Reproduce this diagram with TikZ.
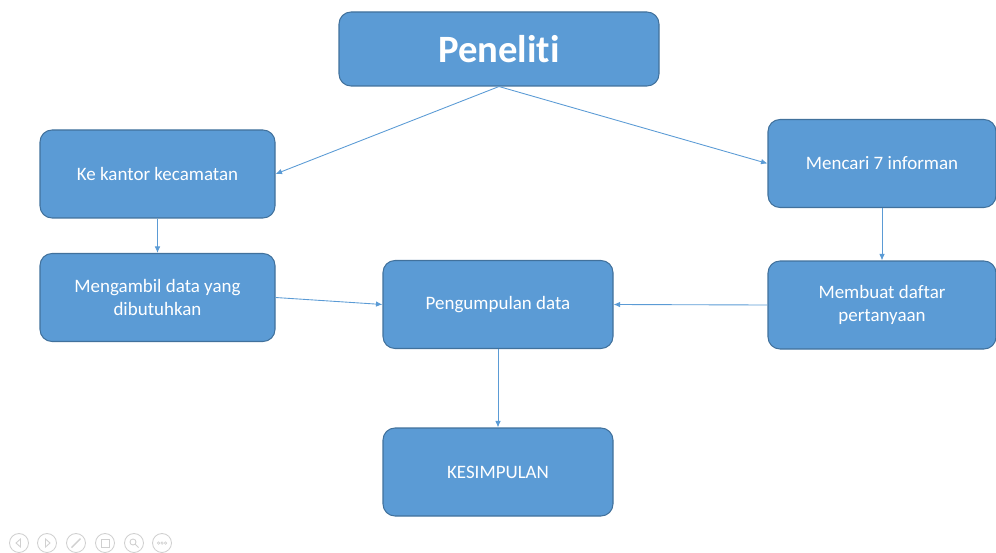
\documentclass[tikz,border=0pt]{standalone}
\usepackage{fontspec}
\setmainfont[Ligatures=NoCommon]{Carlito}
\usetikzlibrary{arrows.meta}
\definecolor{boxblue}{HTML}{5B9BD5}
\definecolor{boxedge}{HTML}{41719C}
\definecolor{ctlgray}{HTML}{D0D0D0}

\begin{document}
\begin{tikzpicture}[
  blok/.style={rectangle,rounded corners=2.4mm,draw=boxedge,fill=boxblue,
    line width=0.6pt,text=white,align=center,font=\fontsize{10.8}{13.2}\selectfont,
    minimum width=4.7cm,minimum height=1.76cm,inner sep=0pt},
  arr/.style={-{Latex[length=1.3mm,width=1.1mm]},boxblue,line width=0.5pt},
  ctl/.style={circle,draw=ctlgray,line width=0.5pt,minimum size=3.8mm,inner sep=0pt}]
  \useasboundingbox (0,0) rectangle (19.92,-11.06);
  % boxes
  \node[blok,minimum width=6.4cm,minimum height=1.48cm,
    font=\fontsize{22}{26}\selectfont\bfseries] (peneliti) at (9.98,-0.98) {Peneliti};
  \node[blok] (kantor) at (3.15,-3.48) {Ke kantor kecamatan};
  \node[blok,minimum width=4.56cm] (informan) at (17.64,-3.27) {Mencari 7 informan};
  \node[blok] (ambil) at (3.15,-5.95) {Mengambil data yang\\dibutuhkan};
  \node[blok,minimum width=4.6cm] (kumpul) at (9.96,-6.09) {Pengumpulan data};
  \node[blok,minimum width=4.56cm] (daftar) at (17.64,-6.10) {Membuat daftar\\pertanyaan};
  \node[blok,minimum width=4.6cm] (simpul) at (9.96,-9.44) {KESIMPULAN};
  % connectors
  \draw[arr] (peneliti.south) -- (kantor.east);
  \draw[arr] (peneliti.south) -- (informan.west);
  \draw[arr] (kantor) -- (ambil);
  \draw[arr] (informan) -- (daftar);
  \draw[arr] (ambil.east) -- (kumpul.west);
  \draw[arr] (daftar.west) -- (kumpul.east);
  \draw[arr] (kumpul) -- (simpul);
  % slide controls
  \foreach \i/\x in {c1/0.38,c2/0.94,c3/1.52,c4/2.10,c5/2.68,c6/3.24}
    \node[ctl] (\i) at (\x,-10.86) {};
  \draw[ctlgray,line width=0.5pt] ([xshift=-0.6mm]c1.center) -- ++(0.9mm,0.8mm) -- ++(0,-1.6mm) -- cycle;
  \draw[ctlgray,line width=0.5pt] ([xshift=0.6mm]c2.center) -- ++(-0.9mm,0.8mm) -- ++(0,-1.6mm) -- cycle;
  \draw[ctlgray,line width=0.8pt] ([shift={(-0.9mm,-0.9mm)}]c3.center) -- ([shift={(0.9mm,0.9mm)}]c3.center);
  \draw[ctlgray,line width=0.5pt] ([shift={(-0.8mm,-0.8mm)}]c4.center) rectangle ([shift={(0.8mm,0.8mm)}]c4.center);
  \draw[ctlgray,line width=0.5pt] ([shift={(-0.2mm,0.2mm)}]c5.center) circle (0.6mm)
    ([shift={(0.25mm,-0.25mm)}]c5.center) -- ([shift={(0.9mm,-0.9mm)}]c5.center);
  \foreach \d in {-0.7,0,0.7}
    \draw[ctlgray,line width=0.4pt] ([xshift=\d mm]c6.center) circle (0.25mm);
\end{tikzpicture}
\end{document}
